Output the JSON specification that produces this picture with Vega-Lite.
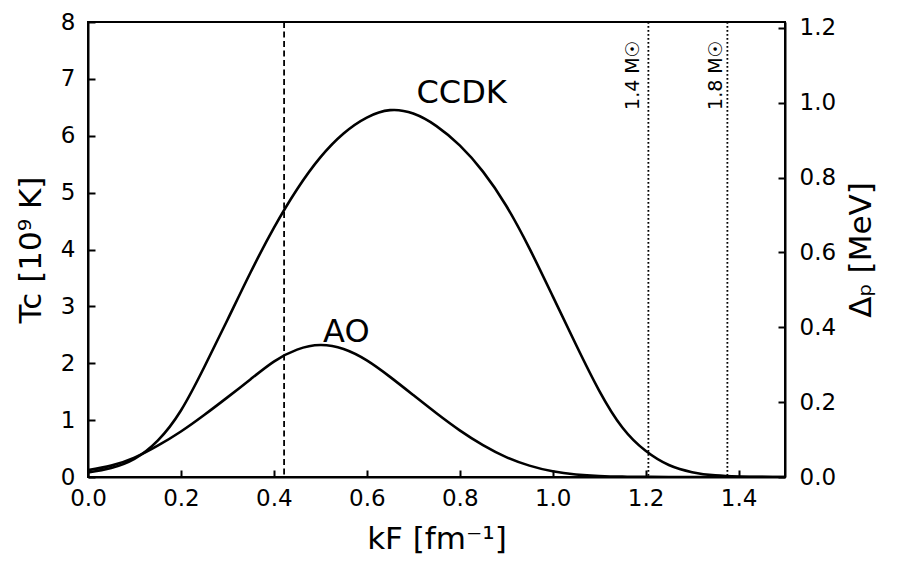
{
  "$schema": "https://vega.github.io/schema/vega-lite/v6.json",
  "width": 697,
  "height": 455,
  "autosize": {"type": "none"},
  "padding": {"left": 88, "top": 22, "right": 115, "bottom": 99},
  "background": "white",
  "config": {
    "font": "DejaVu Sans",
    "view": {"stroke": "black", "strokeWidth": 2},
    "axis": {
      "grid": false,
      "domainColor": "black",
      "domainWidth": 2,
      "tickColor": "black",
      "tickWidth": 2,
      "tickOpacity": 1,
      "labelFontSize": 23,
      "labelColor": "black",
      "labelFlush": false,
      "titleFontSize": 31,
      "titleFontWeight": "normal",
      "titleColor": "black"
    }
  },
  "datasets": {
    "curves": [
      {"k": 0.0, "T": 0.08, "model": "CCDK"},
      {"k": 0.05, "T": 0.16, "model": "CCDK"},
      {"k": 0.1, "T": 0.32, "model": "CCDK"},
      {"k": 0.15, "T": 0.64, "model": "CCDK"},
      {"k": 0.2, "T": 1.17, "model": "CCDK"},
      {"k": 0.25, "T": 1.93, "model": "CCDK"},
      {"k": 0.3, "T": 2.76, "model": "CCDK"},
      {"k": 0.35, "T": 3.6, "model": "CCDK"},
      {"k": 0.4, "T": 4.38, "model": "CCDK"},
      {"k": 0.45, "T": 5.06, "model": "CCDK"},
      {"k": 0.5, "T": 5.62, "model": "CCDK"},
      {"k": 0.55, "T": 6.04, "model": "CCDK"},
      {"k": 0.6, "T": 6.32, "model": "CCDK"},
      {"k": 0.65, "T": 6.45, "model": "CCDK"},
      {"k": 0.7, "T": 6.39, "model": "CCDK"},
      {"k": 0.75, "T": 6.17, "model": "CCDK"},
      {"k": 0.8, "T": 5.83, "model": "CCDK"},
      {"k": 0.85, "T": 5.37, "model": "CCDK"},
      {"k": 0.9, "T": 4.77, "model": "CCDK"},
      {"k": 0.95, "T": 4.02, "model": "CCDK"},
      {"k": 1.0, "T": 3.18, "model": "CCDK"},
      {"k": 1.05, "T": 2.33, "model": "CCDK"},
      {"k": 1.1, "T": 1.52, "model": "CCDK"},
      {"k": 1.15, "T": 0.87, "model": "CCDK"},
      {"k": 1.2, "T": 0.46, "model": "CCDK"},
      {"k": 1.25, "T": 0.21, "model": "CCDK"},
      {"k": 1.3, "T": 0.085, "model": "CCDK"},
      {"k": 1.35, "T": 0.028, "model": "CCDK"},
      {"k": 1.4, "T": 0.008, "model": "CCDK"},
      {"k": 1.45, "T": 0.002, "model": "CCDK"},
      {"k": 1.5, "T": 0.0, "model": "CCDK"},
      {"k": 0.0, "T": 0.12, "model": "AO"},
      {"k": 0.05, "T": 0.2, "model": "AO"},
      {"k": 0.1, "T": 0.34, "model": "AO"},
      {"k": 0.15, "T": 0.55, "model": "AO"},
      {"k": 0.2, "T": 0.8, "model": "AO"},
      {"k": 0.25, "T": 1.09, "model": "AO"},
      {"k": 0.3, "T": 1.4, "model": "AO"},
      {"k": 0.35, "T": 1.72, "model": "AO"},
      {"k": 0.4, "T": 2.03, "model": "AO"},
      {"k": 0.45, "T": 2.24, "model": "AO"},
      {"k": 0.5, "T": 2.32, "model": "AO"},
      {"k": 0.55, "T": 2.25, "model": "AO"},
      {"k": 0.6, "T": 2.05, "model": "AO"},
      {"k": 0.65, "T": 1.76, "model": "AO"},
      {"k": 0.7, "T": 1.44, "model": "AO"},
      {"k": 0.75, "T": 1.12, "model": "AO"},
      {"k": 0.8, "T": 0.82, "model": "AO"},
      {"k": 0.85, "T": 0.56, "model": "AO"},
      {"k": 0.9, "T": 0.35, "model": "AO"},
      {"k": 0.95, "T": 0.2, "model": "AO"},
      {"k": 1.0, "T": 0.1, "model": "AO"},
      {"k": 1.05, "T": 0.045, "model": "AO"},
      {"k": 1.1, "T": 0.018, "model": "AO"},
      {"k": 1.15, "T": 0.006, "model": "AO"},
      {"k": 1.2, "T": 0.002, "model": "AO"},
      {"k": 1.25, "T": 0.0005, "model": "AO"},
      {"k": 1.3, "T": 0.0, "model": "AO"},
      {"k": 1.4, "T": 0.0, "model": "AO"},
      {"k": 1.5, "T": 0.0, "model": "AO"}
    ],
    "dashed": [{"k": 0.422}],
    "dotted": [{"k": 1.206}, {"k": 1.376}],
    "names": [
      {"k": 0.707, "T": 6.57, "txt": "CCDK"},
      {"k": 0.506, "T": 2.38, "txt": "AO"}
    ],
    "stars": [
      {"k": 1.172, "T": 7.68, "txt": "1.4 M☉"},
      {"k": 1.351, "T": 7.68, "txt": "1.8 M☉"}
    ],
    "gap": [{"D": 0.0}, {"D": 1.2}]
  },
  "layer": [
    {
      "layer": [
        {
          "data": {"name": "curves"},
          "mark": {"type": "line", "color": "black", "strokeWidth": 2.6, "interpolate": "natural", "clip": true},
          "encoding": {
            "x": {"field": "k", "type": "quantitative",
                  "scale": {"domain": [0, 1.5], "nice": false, "zero": false},
                  "axis": {"orient": "bottom", "title": "kF [fm⁻¹]", "values": [0, 0.2, 0.4, 0.6, 0.8, 1.0, 1.2, 1.4], "format": ".1f", "ticks": false, "labelPadding": 10, "titlePadding": 14}},
            "y": {"field": "T", "type": "quantitative",
                  "scale": {"domain": [0, 8], "nice": false},
                  "axis": {"orient": "left", "title": "Tc [10⁹ K]", "values": [0, 1, 2, 3, 4, 5, 6, 7, 8], "format": "d", "ticks": false, "labelPadding": 13, "titlePadding": 13}},
            "detail": {"field": "model"}
          }
        },
        {
          "data": {"name": "curves"},
          "mark": {"type": "point", "opacity": 0},
          "encoding": {
            "x": {"field": "k", "type": "quantitative",
                  "axis": {"orient": "bottom", "title": null, "labels": false, "domain": false, "ticks": true, "offset": -7, "tickSize": 7, "zindex": 2, "values": [0, 0.2, 0.4, 0.6, 0.8, 1.0, 1.2, 1.4]}},
            "y": {"field": "T", "type": "quantitative",
                  "axis": {"orient": "left", "title": null, "labels": false, "domain": false, "ticks": true, "offset": -7, "tickSize": 7, "zindex": 2, "values": [0, 1, 2, 3, 4, 5, 6, 7, 8]}}
          }
        },
        {
          "data": {"name": "dashed"},
          "mark": {"type": "rule", "color": "black", "strokeWidth": 1.8, "strokeDash": [6, 3.5]},
          "encoding": {"x": {"field": "k", "type": "quantitative", "axis": null}}
        },
        {
          "data": {"name": "dotted"},
          "mark": {"type": "rule", "color": "black", "strokeWidth": 1.8, "strokeDash": [1.8, 2.2]},
          "encoding": {"x": {"field": "k", "type": "quantitative", "axis": null}}
        },
        {
          "data": {"name": "names"},
          "mark": {"type": "text", "align": "left", "baseline": "alphabetic", "fontSize": 32, "color": "black"},
          "encoding": {
            "x": {"field": "k", "type": "quantitative", "axis": null},
            "y": {"field": "T", "type": "quantitative", "axis": null},
            "text": {"field": "txt"}
          }
        },
        {
          "data": {"name": "stars"},
          "mark": {"type": "text", "align": "right", "baseline": "middle", "angle": 270, "fontSize": 19, "color": "black"},
          "encoding": {
            "x": {"field": "k", "type": "quantitative", "axis": null},
            "y": {"field": "T", "type": "quantitative", "axis": null},
            "text": {"field": "txt"}
          }
        }
      ],
      "resolve": {"axis": {"x": "independent", "y": "independent"}}
    },
    {
      "data": {"name": "gap"},
      "layer": [
        {
          "mark": {"type": "point", "opacity": 0},
          "encoding": {
            "y": {"field": "D", "type": "quantitative",
                  "scale": {"domain": [0, 1.216], "nice": false},
                  "axis": {"orient": "right", "title": "Δₚ [MeV]", "titleAngle": 270, "titleBaseline": "top", "values": [0, 0.2, 0.4, 0.6, 0.8, 1.0, 1.2], "format": ".1f", "ticks": false, "labelPadding": 14, "titlePadding": 11}}
          }
        },
        {
          "mark": {"type": "point", "opacity": 0},
          "encoding": {
            "y": {"field": "D", "type": "quantitative",
                  "axis": {"orient": "right", "title": null, "labels": false, "domain": false, "ticks": true, "offset": -7, "tickSize": 7, "zindex": 2, "values": [0, 0.2, 0.4, 0.6, 0.8, 1.0, 1.2]}}
          }
        }
      ],
      "resolve": {"axis": {"y": "independent"}}
    }
  ],
  "resolve": {"scale": {"y": "independent"}}
}
